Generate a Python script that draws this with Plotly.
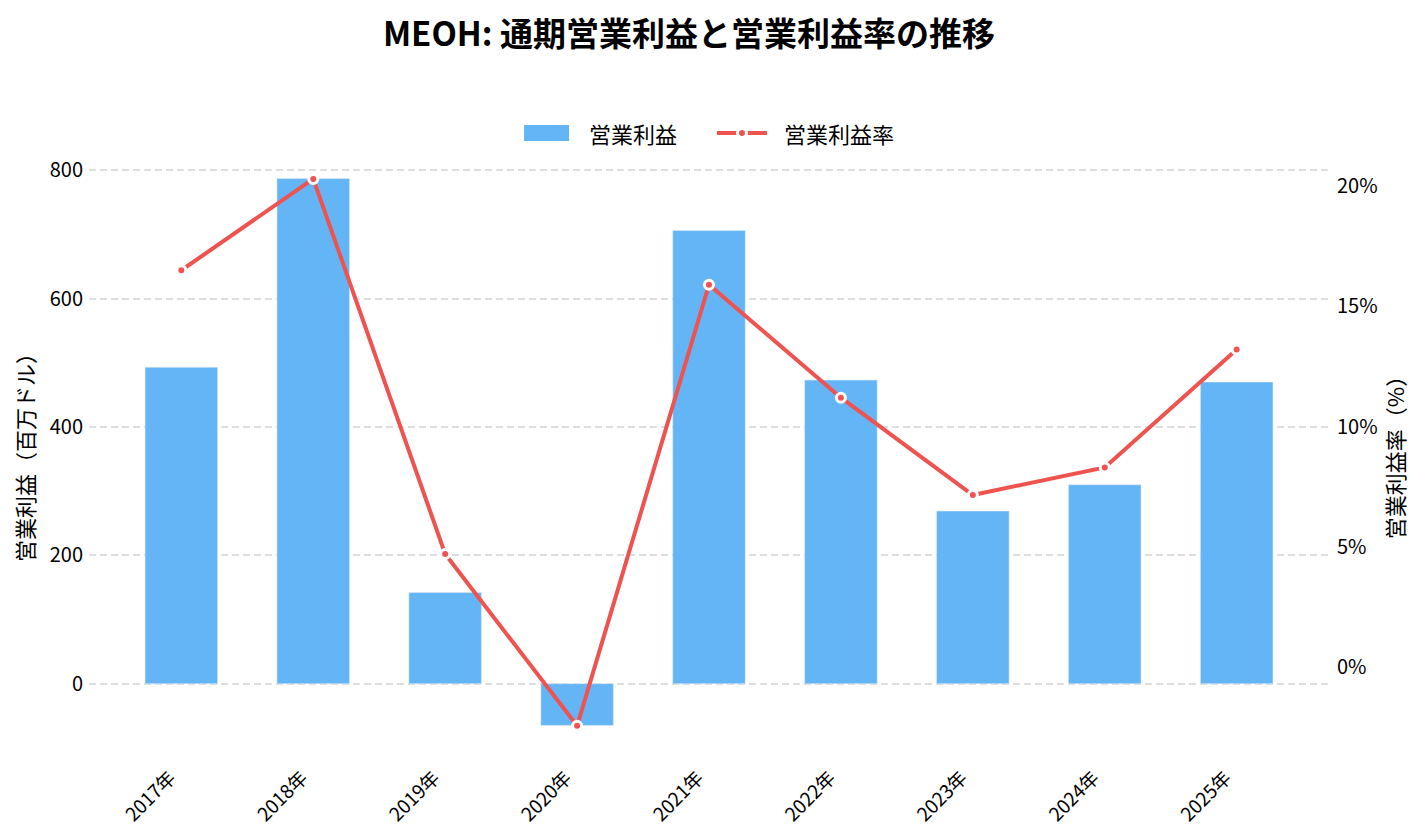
import plotly.graph_objects as go

# 年度ごとの営業利益（百万ドル）と営業利益率（%）
years = ["2017年", "2018年", "2019年", "2020年", "2021年", "2022年", "2023年", "2024年", "2025年"]
operating_income = [493, 787, 142, -65, 706, 473, 269, 310, 470]
operating_margin = [16.5, 20.3, 4.7, -2.45, 15.9, 11.2, 7.15, 8.3, 13.2]

font_family = "Noto Sans CJK JP"
bar_color = "#64B5F6"
line_color = "#EF5350"

fig = go.Figure()

fig.add_trace(go.Bar(
    x=years, y=operating_income, name="営業利益",
    marker=dict(color=bar_color), width=0.55,
))

fig.add_trace(go.Scatter(
    x=years, y=operating_margin, name="営業利益率", yaxis="y2",
    mode="lines+markers",
    line=dict(color=line_color, width=4),
    marker=dict(size=9, color=line_color, line=dict(color="white", width=3)),
))

# 凡例は図形と注釈で描く（横長の棒シンボルにするため）
leg_y = 1.0299
fig.add_shape(type="rect", xref="paper", yref="paper",
              xsizemode="pixel", ysizemode="pixel",
              xanchor=0.3690, yanchor=leg_y, x0=-22.5, x1=22.5, y0=-8, y1=8,
              fillcolor=bar_color, line=dict(width=0))
fig.add_shape(type="line", xref="paper", yref="paper",
              xsizemode="pixel", ysizemode="pixel",
              xanchor=0.5266, yanchor=leg_y, x0=-25, x1=25, y0=0, y1=0,
              line=dict(color=line_color, width=4))
fig.add_shape(type="circle", xref="paper", yref="paper",
              xsizemode="pixel", ysizemode="pixel",
              xanchor=0.5266, yanchor=leg_y, x0=-4.5, x1=4.5, y0=-4.5, y1=4.5,
              fillcolor=line_color, line=dict(color="white", width=3))
fig.add_annotation(text="営業利益", xref="paper", yref="paper", x=0.4020, y=leg_y,
                   xanchor="left", yanchor="middle", showarrow=False,
                   font=dict(size=22))
fig.add_annotation(text="営業利益率", xref="paper", yref="paper", x=0.5585, y=leg_y,
                   xanchor="left", yanchor="middle", showarrow=False,
                   font=dict(size=22))

grid = dict(showgrid=True, gridcolor="#dedede", griddash="7px,4px", gridwidth=1.5)

fig.update_layout(
    width=1409, height=822,
    margin=dict(l=81, r=88, t=143, b=77),
    paper_bgcolor="white", plot_bgcolor="white",
    font=dict(family=font_family, size=20, color="black"),
    showlegend=False,
    title=dict(
        text="<b>MEOH: 通期営業利益と営業利益率の推移</b>",
        x=0.4833, xanchor="center", y=0.968, yanchor="middle",
        font=dict(size=33, family=font_family),
    ),
    xaxis=dict(
        range=[-0.7, 8.7], tickangle=-45, showgrid=False,
        tickfont=dict(size=19), showline=False, zeroline=False,
        ticklabelshift=-11, ticklabelstandoff=9, automargin=False,
    ),
    yaxis=dict(
        title=dict(text="営業利益（百万ドル）", font=dict(size=22), standoff=12),
        range=[-108, 830], dtick=200, tick0=0,
        zeroline=False, showline=False, tickfont=dict(size=20),
        ticklabelstandoff=5, automargin=False, **grid,
    ),
    yaxis2=dict(
        title=dict(text="営業利益率（%）", font=dict(size=22), standoff=8),
        overlaying="y", side="right",
        range=[-3.58, 21.46], dtick=5, tick0=0, ticksuffix="%",
        showgrid=False, zeroline=False, showline=False,
        tickfont=dict(size=20), ticklabelstandoff=7, automargin=False,
    ),
)

fig.write_html("out.html")
